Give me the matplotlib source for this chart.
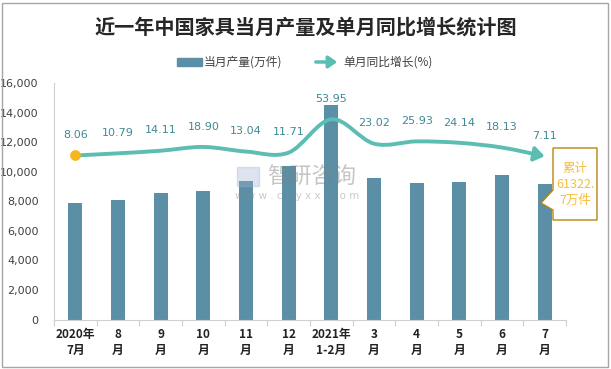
import matplotlib
matplotlib.use("Agg")
import matplotlib.pyplot as plt
from matplotlib.path import Path
from matplotlib.patches import FancyArrowPatch, Rectangle, Polygon
import numpy as np

plt.rcParams['font.family'] = ['Noto Sans CJK SC', 'DejaVu Sans']

categories = ["2020年\n7月", "8\n月", "9\n月", "10\n月", "11\n月", "12\n月",
              "2021年\n1-2月", "3\n月", "4\n月", "5\n月", "6\n月", "7\n月"]
production = [7900, 8100, 8580, 8710, 9390, 10410, 14480, 9590, 9250, 9320, 9800, 9190]
growth = [8.06, 10.79, 14.11, 18.90, 13.04, 11.71, 53.95, 23.02, 25.93, 24.14, 18.13, 7.11]
growth_labels = ["8.06", "10.79", "14.11", "18.90", "13.04", "11.71", "53.95",
                 "23.02", "25.93", "24.14", "18.13", "7.11"]
yticks = [0, 2000, 4000, 6000, 8000, 10000, 12000, 14000, 16000]
title = "近一年中国家具当月产量及单月同比增长统计图"
bar_name = "当月产量(万件)"
line_name = "单月同比增长(%)"
callout = "累计\n61322.\n7万件"

W, H = 611, 369
fig = plt.figure(figsize=(W / 100, H / 100), dpi=100)
ax = fig.add_axes([54 / W, 1 - 319.5 / H, (566 - 54) / W, (319.5 - 83) / H])

bar_c = "#5b8fa6"
line_c = "#5cbdb3"
lab_c = "#3f8a95"

x = np.arange(len(categories))
ax.bar(x, production, width=0.33, color=bar_c, zorder=2)
ax.set_xlim(-0.5, len(categories) - 0.5)
ax.set_ylim(0, 16000)
ax.set_yticks(yticks)
ax.set_yticklabels([f"{v:,}" for v in yticks], fontsize=8, color="#404040",
                   family=['DejaVu Sans'])
ax.tick_params(axis='y', length=0, pad=11)
ax.set_xticks(x)
ax.set_xticklabels(categories, fontsize=8.5, fontweight='bold', color="#222222",
                   linespacing=1.35)
ax.set_xticks(np.arange(-0.5, len(categories), 1), minor=True)
ax.tick_params(axis='x', which='major', length=0, pad=6)
ax.tick_params(axis='x', which='minor', length=4, color="#d0d0d0", width=0.8)
for s in ['top', 'right']:
    ax.spines[s].set_visible(False)
for s in ['left', 'bottom']:
    ax.spines[s].set_color("#d0d0d0")
    ax.spines[s].set_linewidth(0.8)

ax2 = ax.twinx()
ax2.set_ylim(-200, 100)
ax2.set_xlim(ax.get_xlim())
ax2.axis('off')

# smoothed line (Catmull-Rom -> cubic Bezier)
pts = np.column_stack([x, growth]).astype(float)
verts = [tuple(pts[0])]
codes = [Path.MOVETO]
n = len(pts)
for i in range(n - 1):
    p0 = pts[i - 1] if i > 0 else pts[i]
    p1 = pts[i]
    p2 = pts[i + 1]
    p3 = pts[i + 2] if i + 2 < n else pts[i + 1]
    c1 = p1 + (p2 - p0) / 6
    c2 = p2 - (p3 - p1) / 6
    verts += [tuple(c1), tuple(c2), tuple(p2)]
    codes += [Path.CURVE4] * 3
path = Path(verts, codes)
arr = FancyArrowPatch(path=path, arrowstyle='-|>,head_length=0.5,head_width=0.35',
                      mutation_scale=12, color=line_c, lw=2.8, zorder=4,
                      transform=ax2.transData)
ax2.add_patch(arr)
ax2.scatter([x[0]], [growth[0]], s=45, color="#f5b71c", zorder=5)

for xi, yi, lb in zip(x, growth, growth_labels):
    ax2.annotate(lb, (xi, yi), xytext=(0, 11), textcoords='offset points',
                 ha='center', va='bottom', fontsize=8, color=lab_c, zorder=6,
                 family=['DejaVu Sans'])

# title
fig.text(0.5, 1 - 27 / H, title, ha='center', va='center', fontsize=14.5,
         fontweight='bold', color="#262626")

# legend
fig.patches.append(Rectangle((177 / W, 1 - 66 / H), 25 / W, 8 / H,
                             transform=fig.transFigure, color=bar_c))
fig.text(204 / W, 1 - 62 / H, bar_name, ha='left', va='center', fontsize=8.5,
         color="#404040")
fig.patches.append(FancyArrowPatch((313 / W, 1 - 62 / H), (340 / W, 1 - 62 / H),
                                   transform=fig.transFigure,
                                   arrowstyle='-|>,head_length=0.5,head_width=0.35',
                                   mutation_scale=10, color=line_c, lw=2.5))
fig.text(343 / W, 1 - 62 / H, line_name, ha='left', va='center', fontsize=8.5,
         color="#404040")

# callout
bx0, bx1, by0, by1 = 553, 597, 148, 220
poly = [(bx0, by0), (bx1, by0), (bx1, by1), (bx0, by1), (bx0, 210),
        (541, 203), (bx0, 190)]
fig.patches.append(Polygon([(px / W, 1 - py / H) for px, py in poly], closed=True,
                           transform=fig.transFigure, facecolor='white',
                           edgecolor="#b8860b", lw=1.0, zorder=7))
fig.text((bx0 + bx1) / 2 / W, 1 - (by0 + by1) / 2 / H, callout, ha='center',
         va='center', fontsize=9, color="#f5be3a", linespacing=1.3, zorder=8)

# watermark
fig.patches.append(Rectangle((237 / W, 1 - 186 / H), 22 / W, 19 / H,
                             transform=fig.transFigure, color="#9fb3d3",
                             alpha=0.35, zorder=9))
fig.text(267 / W, 1 - 177 / H, "智研咨询", ha='left', va='center', fontsize=16,
         color="#808080", alpha=0.45, zorder=9)
fig.text(235 / W, 1 - 196 / H, "w w w . c h y x x . c o m", ha='left',
         va='center', fontsize=7.5, color="#8a8a8a", alpha=0.45, zorder=9,
         family=['DejaVu Sans'])

# border
fig.patches.append(Rectangle((2 / W, 2 / H), (W - 5) / W, (H - 5) / H,
                             transform=fig.transFigure, fill=False,
                             edgecolor="#a6a6a6", lw=1.0))

fig.savefig("out.png", dpi=100)
